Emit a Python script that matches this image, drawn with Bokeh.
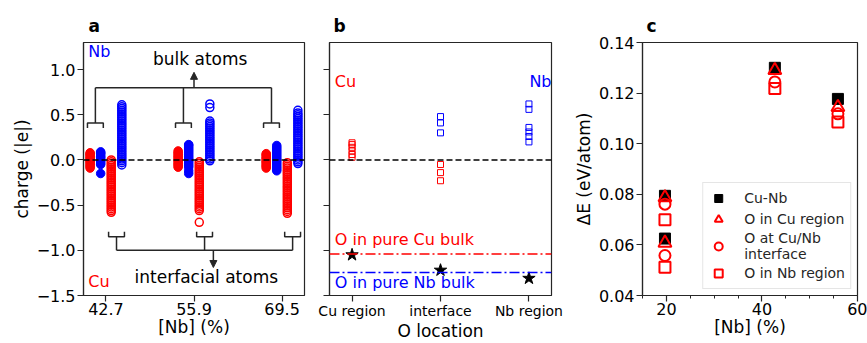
from bokeh.plotting import figure
from bokeh.layouts import row
from bokeh.models import (Span, Label, Arrow, NormalHead, FixedTicker, SingleIntervalTicker,
                          Range1d, Legend, LegendItem, CustomJSTickFormatter, PrintfTickFormatter)
from bokeh.embed import file_html
from bokeh.resources import INLINE

FONT = "DejaVu Sans"
RED = "#ff0000"
BLUE = "#0000ff"
DARK = "#262626"

# ---------------- panel a data: atomic charges (|e|) ----------------
nb_labels = ["42.7", "55.9", "69.5"]
group_pos = [1, 2, 3]
charge_ticks = [-1.5, -1.0, -0.5, 0.0, 0.5, 1.0]
charge_tick_labels = ["−1.5", "−1.0", "−0.5", "0.0", "0.5", "1.0"]

cu_bulk = [
    [-0.09, -0.075, -0.06, -0.045, -0.03, -0.015, 0.0, 0.015, 0.03, 0.045, 0.06, 0.07, 0.08],
    [-0.08, -0.065, -0.05, -0.035, -0.02, -0.005, 0.01, 0.025, 0.04, 0.055, 0.07, 0.085, 0.10],
    [-0.09, -0.075, -0.06, -0.045, -0.03, -0.015, 0.0, 0.015, 0.03, 0.045, 0.06, 0.07],
]
nb_bulk = [
    [-0.15, -0.05, -0.035, -0.02, -0.005, 0.01, 0.025, 0.04, 0.055, 0.07, 0.08, 0.09],
    [-0.15, -0.12, -0.08, -0.06, -0.04, -0.02, 0.0, 0.02, 0.04, 0.06, 0.08, 0.10, 0.12, 0.14, 0.16, 0.17],
    [-0.12, -0.10, -0.08, -0.06, -0.04, -0.02, 0.0, 0.02, 0.04, 0.06, 0.08, 0.10, 0.12, 0.14, 0.16],
]
cu_int = [
    [0.0, -0.02, -0.04, -0.06, -0.08, -0.10, -0.12, -0.14, -0.16, -0.18, -0.20, -0.22, -0.24, -0.26,
     -0.28, -0.30, -0.32, -0.34, -0.36, -0.38, -0.40, -0.42, -0.44, -0.46, -0.48, -0.50, -0.52,
     -0.54, -0.56, -0.58],
    [-0.02, -0.04, -0.06, -0.08, -0.10, -0.12, -0.14, -0.16, -0.18, -0.20, -0.22, -0.24, -0.26,
     -0.28, -0.30, -0.32, -0.34, -0.36, -0.38, -0.40, -0.42, -0.44, -0.46, -0.48, -0.50, -0.52,
     -0.54, -0.56, -0.69],
    [-0.03, -0.05, -0.07, -0.09, -0.11, -0.13, -0.15, -0.17, -0.19, -0.21, -0.23, -0.25, -0.27,
     -0.29, -0.31, -0.33, -0.35, -0.37, -0.39, -0.41, -0.43, -0.45, -0.47, -0.49, -0.51, -0.53,
     -0.55, -0.57, -0.59],
]
nb_int = [
    [-0.055, -0.03, -0.01, 0.01, 0.03, 0.05, 0.07, 0.09, 0.11, 0.13, 0.15, 0.17, 0.19, 0.21, 0.23,
     0.25, 0.27, 0.29, 0.31, 0.33, 0.35, 0.37, 0.39, 0.41, 0.43, 0.45, 0.47, 0.49, 0.51, 0.53,
     0.55, 0.57, 0.59, 0.61],
    [-0.01, 0.01, 0.03, 0.05, 0.07, 0.09, 0.11, 0.13, 0.15, 0.17, 0.19, 0.21, 0.23, 0.25, 0.27,
     0.29, 0.31, 0.33, 0.35, 0.37, 0.39, 0.41, 0.43, 0.58, 0.62],
    [-0.04, -0.02, 0.0, 0.02, 0.04, 0.06, 0.08, 0.10, 0.12, 0.14, 0.16, 0.18, 0.20, 0.22, 0.24,
     0.26, 0.28, 0.30, 0.32, 0.34, 0.36, 0.38, 0.40, 0.42, 0.44, 0.46, 0.48, 0.50, 0.52, 0.55],
]
strip_offsets = {"cu_bulk": -0.18, "nb_bulk": -0.06, "cu_int": 0.06, "nb_int": 0.18}

# bracket levels (charge units)
bulk_bracket_y, bulk_join_y, bulk_arrow_top = 0.41, 0.80, 0.97
int_bracket_y, int_join_y, int_arrow_bot = -0.85, -1.0, -1.19

# ---------------- panel b data ----------------
loc_labels = ["Cu region", "interface", "Nb region"]
b_cu_x = [0, 0, 0, 0, 0, 0, 1, 1, 1]
b_cu_q = [0.19, 0.17, 0.14, 0.10, 0.06, 0.03, -0.05, -0.14, -0.23]
b_nb_x = [1, 1, 1, 2, 2, 2, 2, 2, 2]
b_nb_q = [0.48, 0.41, 0.30, 0.62, 0.56, 0.36, 0.31, 0.26, 0.20]
o_q = [-1.05, -1.22, -1.31]
o_pure_cu = -1.04
o_pure_nb = -1.245

# ---------------- panel c data ----------------
nb_c = [19.7, 19.7, 42.7, 55.9]
e_cunb = [0.0794, 0.0625, 0.1300, 0.1177]
e_ocu = [0.0787, 0.0608, 0.1290, 0.1144]
e_oint = [0.0761, 0.0558, 0.1244, 0.1118]
e_onb = [0.0699, 0.0512, 0.1218, 0.1086]

H = 343
BT, BB = 42, 45


def style(p, tick_size="16px"):
    p.background_fill_color = "white"
    p.border_fill_color = "white"
    p.outline_line_color = DARK
    p.outline_line_width = 1.2
    p.xgrid.visible = False
    p.ygrid.visible = False
    for ax in (p.xaxis[0], p.yaxis[0]):
        ax.axis_line_color = DARK
        ax.axis_line_width = 1.2
        ax.major_tick_line_color = DARK
        ax.major_tick_line_width = 1.2
        ax.major_tick_in = 0
        ax.major_tick_out = 6
        ax.minor_tick_line_color = None
        ax.major_label_text_font = FONT
        ax.major_label_text_font_size = tick_size
        ax.major_label_text_color = "black"
        ax.major_label_standoff = 2
        ax.axis_label_text_font = FONT
        ax.axis_label_text_font_size = "17px"
        ax.axis_label_text_font_style = "normal"
        ax.axis_label_text_color = "black"
        ax.axis_label_standoff = 2
    p.xaxis[0].major_label_standoff = 1
    p.xaxis[0].axis_label_standoff = -1


def set_title(p, txt, offset):
    p.title.text = txt
    p.title.text_font = FONT
    p.title.text_font_size = "17px"
    p.title.text_font_style = "bold"
    p.title.text_color = "black"
    p.title.align = "left"
    p.title.offset = offset
    p.title.standoff = 13


def txt(p, x, y, s, color="black", size="16px", align="left", baseline="middle"):
    p.add_layout(Label(x=x, y=y, text=s, text_font=FONT, text_font_size=size, text_color=color,
                       text_align=align, text_baseline=baseline))


# ================= panel a =================
pa = figure(width=313, height=H, x_range=Range1d(0.745, 3.255), y_range=Range1d(-1.5, 1.3),
            output_backend="svg", toolbar_location=None,
            min_border_left=83, min_border_right=9, min_border_top=BT, min_border_bottom=BB)
style(pa)
set_title(pa, "a", 5)
pa.xaxis.ticker = FixedTicker(ticks=group_pos)
pa.xaxis.major_label_overrides = {g: l for g, l in zip(group_pos, nb_labels)}
pa.yaxis.ticker = FixedTicker(ticks=charge_ticks)
pa.yaxis.major_label_overrides = {t: l for t, l in zip(charge_ticks, charge_tick_labels)}
pa.xaxis.axis_label = "[Nb] (%)"
pa.yaxis.axis_label = "charge (|e|)"

pa.add_layout(Span(location=0, dimension="width", line_color="black", line_dash="6 3", line_width=1.5))


def strip_xy(data, key):
    xs, ys = [], []
    for g, vals in zip(group_pos, data):
        xs += [g + strip_offsets[key]] * len(vals)
        ys += vals
    return xs, ys


x, y = strip_xy(cu_bulk, "cu_bulk")
pa.scatter(x, y, marker="circle", size=8.5, fill_color=RED, line_color=RED, line_width=1)
x, y = strip_xy(nb_bulk, "nb_bulk")
pa.scatter(x, y, marker="circle", size=8.5, fill_color=BLUE, line_color=BLUE, line_width=1)
x, y = strip_xy(cu_int, "cu_int")
pa.scatter(x, y, marker="circle", size=8, fill_color=None, line_color=RED, line_width=1.5)
x, y = strip_xy(nb_int, "nb_int")
pa.scatter(x, y, marker="circle", size=8, fill_color=None, line_color=BLUE, line_width=1.5)

# brackets
bx, by = [], []
tick_h = 0.055
for g in group_pos:
    l, r = g + strip_offsets["cu_bulk"] - 0.03, g + strip_offsets["nb_bulk"] + 0.03
    c = (g + strip_offsets["cu_bulk"] + g + strip_offsets["nb_bulk"]) / 2
    bx.append([l, l, r, r]); by.append([bulk_bracket_y - tick_h, bulk_bracket_y, bulk_bracket_y, bulk_bracket_y - tick_h])
    bx.append([c, c]); by.append([bulk_bracket_y, bulk_join_y])
    l, r = g + strip_offsets["cu_int"] - 0.03, g + strip_offsets["nb_int"] + 0.03
    c = (g + strip_offsets["cu_int"] + g + strip_offsets["nb_int"]) / 2
    bx.append([l, l, r, r]); by.append([int_bracket_y + tick_h, int_bracket_y, int_bracket_y, int_bracket_y + tick_h])
    bx.append([c, c]); by.append([int_bracket_y, int_join_y])
cb0 = group_pos[0] + (strip_offsets["cu_bulk"] + strip_offsets["nb_bulk"]) / 2
cb2 = group_pos[-1] + (strip_offsets["cu_bulk"] + strip_offsets["nb_bulk"]) / 2
bx.append([cb0, cb2]); by.append([bulk_join_y, bulk_join_y])
ci0 = group_pos[0] + (strip_offsets["cu_int"] + strip_offsets["nb_int"]) / 2
ci2 = group_pos[-1] + (strip_offsets["cu_int"] + strip_offsets["nb_int"]) / 2
bx.append([ci0, ci2]); by.append([int_join_y, int_join_y])
pa.multi_line(bx, by, line_color=DARK, line_width=1.5)

pa.add_layout(Arrow(end=NormalHead(size=7, fill_color=DARK, line_color=DARK),
                    x_start=2.0, y_start=bulk_join_y, x_end=2.0, y_end=bulk_arrow_top,
                    line_color=DARK, line_width=1.5))
pa.add_layout(Arrow(end=NormalHead(size=7, fill_color=DARK, line_color=DARK),
                    x_start=2.22, y_start=int_join_y, x_end=2.22, y_end=int_arrow_bot,
                    line_color=DARK, line_width=1.5))
txt(pa, 2.07, 1.12, "bulk atoms", size="17px", align="center")
txt(pa, 2.14, -1.29, "interfacial atoms", size="17px", align="center")
txt(pa, 0.80, 1.20, "Nb", color=BLUE)
txt(pa, 0.80, -1.34, "Cu", color=RED)

# ================= panel b =================
pb = figure(width=257, height=H, x_range=Range1d(-0.255, 2.255), y_range=Range1d(-1.5, 1.3),
            output_backend="svg", toolbar_location=None,
            min_border_left=16, min_border_right=19, min_border_top=BT, min_border_bottom=BB)
style(pb, tick_size="14px")
set_title(pb, "b", 4)
pb.xaxis.ticker = FixedTicker(ticks=[0, 1, 2])
pb.xaxis.major_label_overrides = {i: l for i, l in enumerate(loc_labels)}
pb.yaxis.ticker = FixedTicker(ticks=charge_ticks)
pb.yaxis.formatter = CustomJSTickFormatter(code="return ''")
pb.xaxis.axis_label = "O location"

pb.add_layout(Span(location=0, dimension="width", line_color="black", line_dash="6 3", line_width=1.5))
pb.add_layout(Span(location=o_pure_cu, dimension="width", line_color=RED, line_dash="10 3 2 3", line_width=1.5))
pb.add_layout(Span(location=o_pure_nb, dimension="width", line_color=BLUE, line_dash="10 3 2 3", line_width=1.5))
pb.scatter(b_cu_x, b_cu_q, marker="square", size=6, fill_color=None, line_color=RED, line_width=1)
pb.scatter(b_nb_x, b_nb_q, marker="square", size=6, fill_color=None, line_color=BLUE, line_width=1)
pb.scatter([0, 1, 2], o_q, marker="star", size=13, fill_color="black", line_color="black")
txt(pb, -0.195, -0.985, "O in pure Cu bulk", color=RED, baseline="bottom")
txt(pb, -0.195, -1.36, "O in pure Nb bulk", color=BLUE)
txt(pb, -0.195, 0.87, "Cu", color=RED)
txt(pb, 2.255, 0.87, "Nb", color=BLUE, align="right")

# ================= panel c =================
pc = figure(width=297, height=H, x_range=Range1d(15, 60), y_range=Range1d(0.04, 0.14),
            output_backend="svg", toolbar_location=None,
            min_border_left=69, min_border_right=10, min_border_top=BT, min_border_bottom=BB)
style(pc)
set_title(pc, "c", 4)
pc.xaxis.ticker = SingleIntervalTicker(interval=20, num_minor_ticks=4)
pc.xaxis.minor_tick_line_color = DARK
pc.xaxis.minor_tick_in = 0
pc.xaxis.minor_tick_out = 3
pc.yaxis.ticker = SingleIntervalTicker(interval=0.02, num_minor_ticks=0)
pc.yaxis.formatter = PrintfTickFormatter(format="%.2f")
pc.xaxis.axis_label = "[Nb] (%)"
pc.yaxis.axis_label = "ΔE (eV/atom)"

r1 = pc.scatter(nb_c, e_cunb, marker="square", size=11, fill_color="black", line_color="black")
r2 = pc.scatter(nb_c, e_ocu, marker="triangle", size=13, fill_color=None, line_color=RED, line_width=2)
r3 = pc.scatter(nb_c, e_oint, marker="circle", size=11, fill_color=None, line_color=RED, line_width=2)
r4 = pc.scatter(nb_c, e_onb, marker="square", size=11, fill_color=None, line_color=RED, line_width=2)
leg = Legend(items=[LegendItem(label="Cu-Nb", renderers=[r1]),
                    LegendItem(label="O in Cu region", renderers=[r2]),
                    LegendItem(label="O at Cu/Nb\ninterface", renderers=[r3]),
                    LegendItem(label="O in Nb region", renderers=[r4])],
             location="bottom_right")
leg.label_text_font = FONT
leg.label_text_font_size = "14px"
leg.label_text_color = DARK
leg.border_line_color = "#cccccc"
leg.border_line_width = 1
leg.background_fill_alpha = 0.9
leg.margin = 6
leg.padding = 5
leg.spacing = 1
leg.glyph_width = 20
leg.glyph_height = 20
leg.label_height = 20
leg.label_standoff = 16
pc.add_layout(leg)

layout = row(pa, pb, pc)
open("out.html", "w").write(file_html(layout, INLINE))
